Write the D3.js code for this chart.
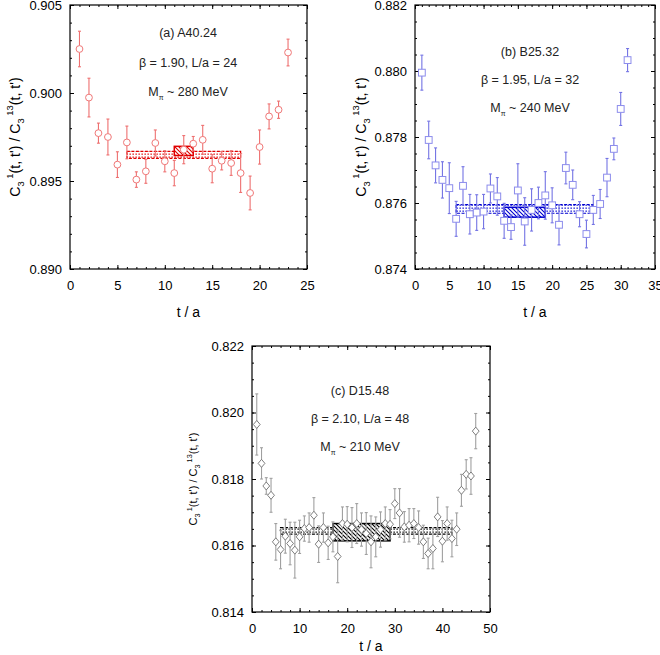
<!DOCTYPE html>
<html>
<head>
<meta charset="utf-8">
<script src="https://cdn.jsdelivr.net/npm/d3@7"></script>
<style>
  body { margin: 0; background: #fff; }
  svg text { font-family: "Liberation Sans", Arial, sans-serif; }
</style>
</head>
<body>
<div id="vis"></div>
<script>
// panel (a) A40.24
const tA = [1, 2, 3, 4, 5, 6, 7, 8, 9, 10, 11, 12, 13, 14, 15, 16, 17, 18, 19, 20, 21, 22, 23];
const ratioA = [0.90250, 0.89974, 0.89772, 0.89750, 0.89593, 0.89719, 0.89508, 0.89555, 0.89716, 0.89612,
  0.89545, 0.89678, 0.89712, 0.89734, 0.89570, 0.89615, 0.89602, 0.89545, 0.89432, 0.89693,
  0.89867, 0.89905, 0.90230];
const errA = [0.00101, 0.0011, 0.00057, 0.00102, 0.00073, 0.00093, 0.00044, 0.00068, 0.00074, 0.0006,
  0.00072, 0.0008, 0.00041, 0.00082, 0.0008, 0.00052, 0.0007, 0.0011, 0.00096, 0.00097,
  0.00071, 0.00049, 0.00076];
const longFitA = [6, 18, 0.89648, 0.0002];   // t start, t end, value, error
const shortFitA = [11, 13, 0.89671, 0.00026];

// panel (b) B25.32
const tB = [1, 2, 3, 4, 5, 6, 7, 8, 9, 10, 11, 12, 13, 14, 15, 16, 17, 18, 19, 20,
  21, 22, 23, 24, 25, 26, 27, 28, 29, 30, 31];
const ratioB = [0.87995, 0.87791, 0.87714, 0.87670, 0.87645, 0.87552, 0.87652, 0.87566, 0.87571, 0.87574,
  0.87644, 0.87620, 0.87546, 0.87527, 0.87638, 0.87544, 0.87579, 0.87600, 0.87623, 0.87593,
  0.87534, 0.87706, 0.87655, 0.87566, 0.87506, 0.87579, 0.87597, 0.87677, 0.87764, 0.87885, 0.88033];
const errB = [0.00053, 0.00057, 0.00053, 0.00055, 0.00077, 0.00053, 0.00058, 0.0006, 0.00054, 0.00052,
  0.00044, 0.00057, 0.00053, 0.00037, 0.00081, 0.00072, 0.00064, 0.00048, 0.00072, 0.00053,
  0.00061, 0.00048, 0.00045, 0.00038, 0.00042, 0.00044, 0.00044, 0.00058, 0.00033, 0.0005, 0.00035];
const longFitB = [6, 26, 0.87582, 0.00013];
const shortFitB = [13, 19, 0.87572, 0.00015];

// panel (c) D15.48
const tC = [1, 2, 3, 4, 5, 6, 7, 8, 9, 10, 11, 12, 13, 14, 15, 16, 17, 18, 19, 20,
  21, 22, 23, 24, 25, 26, 27, 28, 29, 30, 31, 32, 33, 34, 35, 36, 37, 38, 39, 40,
  41, 42, 43, 44, 45, 46, 47];
const ratioC = [0.81964, 0.81847, 0.81779, 0.81751, 0.81611, 0.81588, 0.81628, 0.81606, 0.81586, 0.81626,
  0.81651, 0.81654, 0.81691, 0.81604, 0.81654, 0.81608, 0.81626, 0.81567, 0.81666, 0.81664,
  0.81654, 0.81666, 0.81648, 0.81636, 0.81611, 0.81626, 0.81648, 0.81666, 0.81664, 0.81726,
  0.81698, 0.81656, 0.81661, 0.81666, 0.81654, 0.81611, 0.81576, 0.81591, 0.81686, 0.81613,
  0.81666, 0.81621, 0.81649, 0.81766, 0.81814, 0.81809, 0.81944];
const errC = [0.00092, 0.00047, 0.00025, 0.00051, 0.00055, 0.00058, 0.00051, 0.00064, 0.00084, 0.0005,
  0.00038, 0.00044, 0.00053, 0.00055, 0.00044, 0.0005, 0.00045, 0.00079, 0.0005, 0.00053,
  0.0006, 0.0006, 0.0005, 0.00063, 0.00078, 0.0006, 0.00053, 0.0005, 0.00044, 0.00045,
  0.00073, 0.00046, 0.0005, 0.00045, 0.0005, 0.0005, 0.00046, 0.00061, 0.00059, 0.00062,
  0.0005, 0.00055, 0.00049, 0.00048, 0.00044, 0.00055, 0.00053];
const longFitC = [6, 42, 0.81644, 0.0001];
const shortFitC = [17, 29, 0.8164, 0.00026];

// axis ticks
const xTicksA = [0, 5, 10, 15, 20, 25];
const yTicksA = [0.890, 0.895, 0.900, 0.905];
const xTicksB = [0, 5, 10, 15, 20, 25, 30, 35];
const yTicksB = [0.874, 0.876, 0.878, 0.880, 0.882];
const xTicksC = [0, 10, 20, 30, 40, 50];
const yTicksC = [0.814, 0.816, 0.818, 0.820, 0.822];

const panels = [
  {
    id: "a", t: tA, v: ratioA, e: errA, longFit: longFitA, shortFit: shortFitA,
    xTicks: xTicksA, xMinor: 1, yTicks: yTicksA, yMinor: 0.001,
    box: { left: 70, right: 307, top: 5, bottom: 269 },
    marker: "circle", pointColor: "#f07878", barColor: "#ee7070", fitColor: "#e00000",
    title: "(a) A40.24", beta: "β = 1.90, L/a = 24", mpi: " ~ 280 MeV",
    textX: 188, textY: [37, 67, 96], yTitleX: 20, yTitleSize: 14.2, xTitleOff: 48
  },
  {
    id: "b", t: tB, v: ratioB, e: errB, longFit: longFitB, shortFit: shortFitB,
    xTicks: xTicksB, xMinor: 1, yTicks: yTicksB, yMinor: 0.0005,
    box: { left: 415, right: 655, top: 5, bottom: 269 },
    marker: "square", pointColor: "#8c8cec", barColor: "#7474e4", fitColor: "#0000d0",
    title: "(b) B25.32", beta: "β = 1.95, L/a = 32", mpi: " ~ 240 MeV",
    textX: 530, textY: [56, 84, 112], yTitleX: 366, yTitleSize: 14.2, xTitleOff: 48
  },
  {
    id: "c", t: tC, v: ratioC, e: errC, longFit: longFitC, shortFit: shortFitC,
    xTicks: xTicksC, xMinor: 2, yTicks: yTicksC, yMinor: 0.0005,
    box: { left: 252, right: 490, top: 346, bottom: 612 },
    marker: "diamond", pointColor: "#707070", barColor: "#a0a0a0", fitColor: "#000000",
    title: "(c) D15.48", beta: "β = 2.10, L/a = 48", mpi: " ~ 210 MeV",
    textX: 360, textY: [395, 423, 451], yTitleX: 197, yTitleSize: 11, xTitleOff: 39
  }
];

const svg = d3.select("#vis").append("svg")
  .attr("width", 660)
  .attr("height", 655);

const defs = svg.append("defs");

function addPatterns(p) {
  const dots = defs.append("pattern")
    .attr("id", "dots-" + p.id)
    .attr("patternUnits", "userSpaceOnUse")
    .attr("width", 3).attr("height", 3);
  dots.append("rect").attr("width", 3).attr("height", 3).attr("fill", "#fff");
  dots.append("rect").attr("x", 0.5).attr("y", 0.5).attr("width", 1.3).attr("height", 1.3)
    .attr("fill", p.fitColor);

  const hatch = defs.append("pattern")
    .attr("id", "hatch-" + p.id)
    .attr("patternUnits", "userSpaceOnUse")
    .attr("width", 4).attr("height", 4);
  hatch.append("rect").attr("width", 4).attr("height", 4).attr("fill", "#fff");
  hatch.append("path")
    .attr("d", "M-1,-1 L5,5 M-1,3 L1,5 M3,-1 L5,1")
    .attr("stroke", p.fitColor).attr("stroke-width", 1.1);
}

function range(a, b, step) {
  const out = [];
  for (let v = a; v <= b + step * 1e-6; v += step) out.push(+v.toFixed(6));
  return out;
}

function drawPanel(p) {
  addPatterns(p);
  const b = p.box;
  const x = d3.scaleLinear()
    .domain([p.xTicks[0], p.xTicks[p.xTicks.length - 1]])
    .range([b.left, b.right]);
  const y = d3.scaleLinear()
    .domain([p.yTicks[0], p.yTicks[p.yTicks.length - 1]])
    .range([b.bottom, b.top]);

  const g = svg.append("g").attr("class", "panel-" + p.id);

  const xMinor = range(x.domain()[0], x.domain()[1], p.xMinor);
  const yMinor = range(y.domain()[0], y.domain()[1], p.yMinor);

  // ticks on all four sides, pointing inward
  const axes = [
    [d3.axisBottom(x), `translate(0,${b.bottom})`, xMinor, p.xTicks, d3.format("d"), 12],
    [d3.axisTop(x), `translate(0,${b.top})`, xMinor, p.xTicks, null, 8],
    [d3.axisLeft(y), `translate(${b.left},0)`, yMinor, p.yTicks, d3.format(".3f"), 8],
    [d3.axisRight(y), `translate(${b.right},0)`, yMinor, p.yTicks, null, 8]
  ];
  axes.forEach(([axis, tr, minor, major, fmt, pad]) => {
    g.append("g").attr("transform", tr)
      .call(axis.tickValues(minor).tickSize(-2).tickFormat(""))
      .call((s) => s.select(".domain").remove())
      .selectAll("line").attr("stroke", "#000");
    const ga = g.append("g").attr("transform", tr)
      .call(axis.tickValues(major).tickSize(-4).tickPadding(pad)
        .tickFormat(fmt || ""))
      .call((s) => s.select(".domain").remove());
    ga.selectAll("line").attr("stroke", "#000");
    ga.selectAll("text")
      .style("font-family", "Liberation Sans, Arial, sans-serif")
      .style("font-size", "13px")
      .attr("fill", "#000");
  });

  g.append("rect")
    .attr("x", b.left).attr("y", b.top)
    .attr("width", b.right - b.left).attr("height", b.bottom - b.top)
    .attr("fill", "none").attr("stroke", "#000").attr("stroke-width", 1.2);

  // fit bands
  const lf = p.longFit;
  g.append("rect")
    .attr("x", x(lf[0])).attr("y", y(lf[2] + lf[3]))
    .attr("width", x(lf[1]) - x(lf[0]))
    .attr("height", y(lf[2] - lf[3]) - y(lf[2] + lf[3]))
    .attr("fill", `url(#dots-${p.id})`)
    .attr("stroke", p.fitColor).attr("stroke-width", 1.2)
    .attr("stroke-dasharray", "3,1.5");
  const sf = p.shortFit;
  g.append("rect")
    .attr("x", x(sf[0])).attr("y", y(sf[2] + sf[3]))
    .attr("width", x(sf[1]) - x(sf[0]))
    .attr("height", y(sf[2] - sf[3]) - y(sf[2] + sf[3]))
    .attr("fill", `url(#hatch-${p.id})`)
    .attr("stroke", p.fitColor).attr("stroke-width", 1.5);

  // data points with error bars
  const pts = p.t.map((t, i) => ({ t: t, v: p.v[i], e: p.e[i] }));
  const pg = g.selectAll(".pt").data(pts).enter().append("g").attr("class", "pt");
  pg.append("line")
    .attr("x1", (d) => x(d.t)).attr("x2", (d) => x(d.t))
    .attr("y1", (d) => y(d.v + d.e)).attr("y2", (d) => y(d.v - d.e))
    .attr("stroke", p.barColor).attr("stroke-width", 1.1);
  [1, -1].forEach((s) => {
    pg.append("line")
      .attr("x1", (d) => x(d.t) - 1.5).attr("x2", (d) => x(d.t) + 1.5)
      .attr("y1", (d) => y(d.v + s * d.e)).attr("y2", (d) => y(d.v + s * d.e))
      .attr("stroke", p.barColor).attr("stroke-width", 1.1);
  });
  if (p.marker === "circle") {
    pg.append("circle")
      .attr("cx", (d) => x(d.t)).attr("cy", (d) => y(d.v)).attr("r", 3.4)
      .attr("fill", "#fff").attr("stroke", p.pointColor).attr("stroke-width", 1);
  } else if (p.marker === "square") {
    pg.append("rect")
      .attr("x", (d) => x(d.t) - 3.4).attr("y", (d) => y(d.v) - 3.4)
      .attr("width", 6.8).attr("height", 6.8)
      .attr("fill", "#fff").attr("stroke", p.pointColor).attr("stroke-width", 1);
  } else {
    pg.append("path")
      .attr("d", (d) => {
        const cx = x(d.t), cy = y(d.v), r = 4;
        return `M${cx},${cy - r}L${cx + r * 0.85},${cy}L${cx},${cy + r}L${cx - r * 0.85},${cy}Z`;
      })
      .attr("fill", "#fff").attr("stroke", p.pointColor).attr("stroke-width", 0.9);
  }

  // annotations
  const ann = g.append("g").attr("text-anchor", "middle")
    .style("font-size", "12.5px").attr("fill", "#222");
  ann.append("text").attr("x", p.textX).attr("y", p.textY[0]).text(p.title);
  ann.append("text").attr("x", p.textX).attr("y", p.textY[1]).text(p.beta);
  const m = ann.append("text").attr("x", p.textX).attr("y", p.textY[2]);
  m.append("tspan").text("M");
  m.append("tspan").attr("dy", 4).style("font-size", "7px").text("π");
  m.append("tspan").attr("dy", -4).text(p.mpi);

  // axis titles
  g.append("text")
    .attr("x", (b.left + b.right) / 2).attr("y", b.bottom + p.xTitleOff)
    .attr("text-anchor", "middle").style("font-size", "14px")
    .text("t / a");

  const s = p.yTitleSize;
  const small = (s * 0.66).toFixed(1) + "px";
  const yt = g.append("text")
    .attr("transform", `translate(${p.yTitleX},${(b.top + b.bottom) / 2}) rotate(-90)`)
    .attr("text-anchor", "middle").style("font-size", s + "px");
  yt.append("tspan").text("C");
  yt.append("tspan").attr("dy", s * 0.3).style("font-size", small).text("3");
  yt.append("tspan").attr("dy", -s * 0.8).style("font-size", small).text(" 1");
  yt.append("tspan").attr("dy", s * 0.5).text("(t, t') / C");
  yt.append("tspan").attr("dy", s * 0.3).style("font-size", small).text("3");
  yt.append("tspan").attr("dy", -s * 0.8).style("font-size", small).text(" 13");
  yt.append("tspan").attr("dy", s * 0.5).text("(t, t')");
}

panels.forEach(drawPanel);
</script>
</body>
</html>
